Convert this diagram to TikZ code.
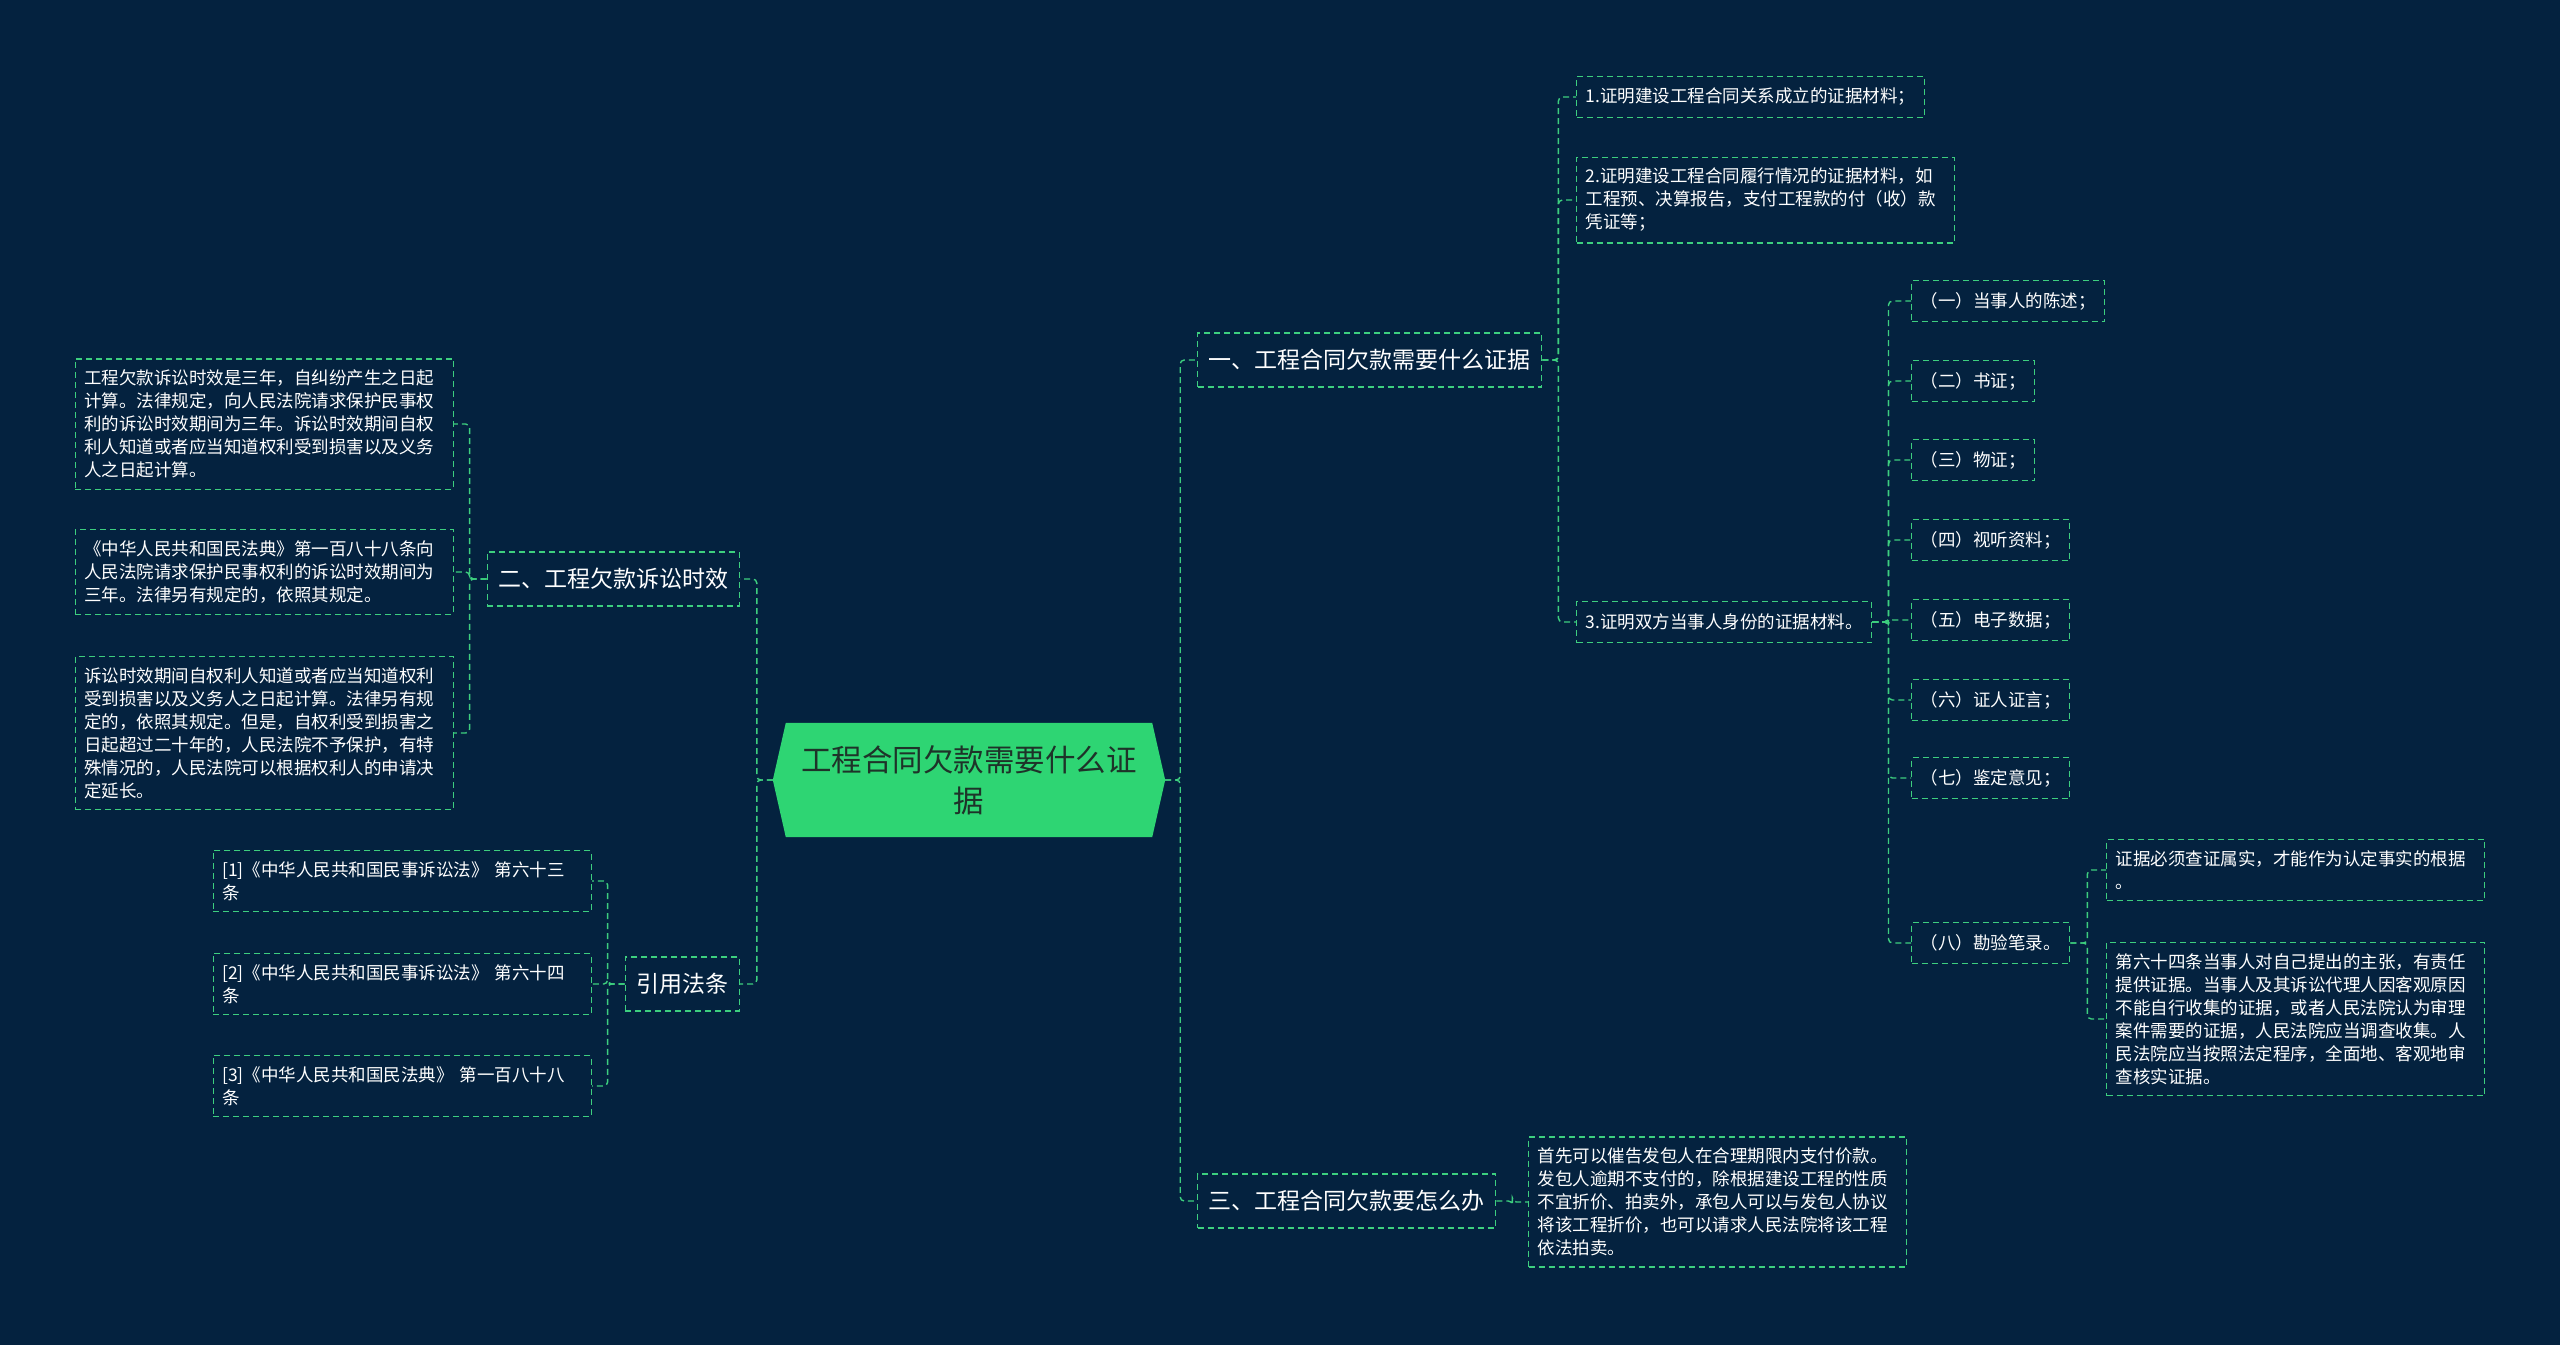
\documentclass[tikz,border=0pt]{standalone}
\usepackage{fontspec}
\setmainfont{Noto Sans CJK SC}
\usetikzlibrary{backgrounds}
\definecolor{mapbg}{HTML}{04223F}
\definecolor{mapline}{HTML}{3DCF7F}
\definecolor{rootfill}{HTML}{2ED573}
\definecolor{roottext}{HTML}{1E3329}
\tikzset{
  topic/.style={draw=mapline,dash pattern=on 6pt off 4pt,line width=1.4pt,text=white,
    font=\fontsize{23}{28}\selectfont,inner xsep=11pt,minimum height=54pt},
  leaf/.style={topic,font=\fontsize{17.5}{23}\selectfont,inner xsep=9pt,inner ysep=11pt,minimum height=41pt},
  note/.style={leaf,text width=360pt,align=left},
  link/.style={draw=mapline,dash pattern=on 6pt off 4pt,line width=1.4pt,rounded corners=4pt},
}

\begin{document}
\begin{tikzpicture}[x=1pt,y=-1pt]
  \useasboundingbox (0,0) rectangle (2560,1345);

  % centre
  \node[font=\fontsize{30.5}{41}\selectfont,text=roottext,align=center,
    minimum width=366pt,minimum height=114pt] (root) at (969,780) {工程合同欠款需要什么证\\据};
  \coordinate (rootR) at ([xshift=13pt]root.east);
  \coordinate (rootL) at ([xshift=-13pt]root.west);

  % main branches
  \node[topic,anchor=west] (b1) at (1197,360) {一、工程合同欠款需要什么证据};
  \node[topic,anchor=west] (b3) at (1197,1201) {三、工程合同欠款要怎么办};
  \node[topic,anchor=east] (b2) at (740,579) {二、工程欠款诉讼时效};
  \node[topic,anchor=east] (bq) at (740,984) {引用法条};

  % evidence
  \node[leaf,anchor=west] (s1) at (1576,97) {1.证明建设工程合同关系成立的证据材料；};
  \node[note,anchor=west] (s2) at (1576,200)
    {2.证明建设工程合同履行情况的证据材料，如\\工程预、决算报告，支付工程款的付（收）款\\凭证等；};
  \node[leaf,anchor=west] (s3) at (1576,622) {3.证明双方当事人身份的证据材料。};
  \foreach \s in {s1,s2,s3}
    \draw[link] (b1.east) -- ++(16,0) |- (\s.west);

  \foreach \n/\t/\y in {1/（一）当事人的陈述；/301,2/（二）书证；/381,3/（三）物证；/460,
      4/（四）视听资料；/540,5/（五）电子数据；/620,6/（六）证人证言；/700,
      7/（七）鉴定意见；/778,8/（八）勘验笔录。/943}{
    \node[leaf,anchor=west] (e\n) at (1911,\y) {\t};
    \draw[link] (s3.east) -- ++(16,0) |- (e\n.west);
  }
  \node[note,anchor=west] (e8a) at (2106,870) {证据必须查证属实，才能作为认定事实的根据\\。};
  \node[note,anchor=west] (e8b) at (2106,1019)
    {第六十四条当事人对自己提出的主张，有责任\\提供证据。当事人及其诉讼代理人因客观原因\\不能自行收集的证据，或者人民法院认为审理\\案件需要的证据，人民法院应当调查收集。人\\民法院应当按照法定程序，全面地、客观地审\\查核实证据。};
  \draw[link] (e8.east) -- ++(17,0) |- (e8a.west);
  \draw[link] (e8.east) -- ++(17,0) |- (e8b.west);

  % what to do
  \node[note,anchor=west] (b3a) at (1528,1202)
    {首先可以催告发包人在合理期限内支付价款。\\发包人逾期不支付的，除根据建设工程的性质\\不宜折价、拍卖外，承包人可以与发包人协议\\将该工程折价，也可以请求人民法院将该工程\\依法拍卖。};
  \draw[link] (b3.east) -- ++(16,0) |- (b3a.west);

  % limitation period
  \node[note,anchor=east] (l1) at (454,424)
    {工程欠款诉讼时效是三年，自纠纷产生之日起\\计算。法律规定，向人民法院请求保护民事权\\利的诉讼时效期间为三年。诉讼时效期间自权\\利人知道或者应当知道权利受到损害以及义务\\人之日起计算。};
  \node[note,anchor=east] (l2) at (454,572)
    {《中华人民共和国民法典》第一百八十八条向\\人民法院请求保护民事权利的诉讼时效期间为\\三年。法律另有规定的，依照其规定。};
  \node[note,anchor=east] (l3) at (454,733)
    {诉讼时效期间自权利人知道或者应当知道权利\\受到损害以及义务人之日起计算。法律另有规\\定的，依照其规定。但是，自权利受到损害之\\日起超过二十年的，人民法院不予保护，有特\\殊情况的，人民法院可以根据权利人的申请决\\定延长。};
  \foreach \l in {l1,l2,l3}
    \draw[link] (b2.west) -- ++(-17,0) |- (\l.east);

  % cited laws
  \node[note,anchor=east] (r1) at (592,881) {[1]《中华人民共和国民事诉讼法》 第六十三\\条};
  \node[note,anchor=east] (r2) at (592,984) {[2]《中华人民共和国民事诉讼法》 第六十四\\条};
  \node[note,anchor=east] (r3) at (592,1086) {[3]《中华人民共和国民法典》 第一百八十八\\条};
  \foreach \r in {r1,r2,r3}
    \draw[link] (bq.west) -- ++(-17,0) |- (\r.east);

  % trunk
  \draw[link] (rootR) -- ++(15,0) |- (b1.west);
  \draw[link] (rootR) -- ++(15,0) |- (b3.west);
  \draw[link] (rootL) -- ++(-16,0) |- (b2.east);
  \draw[link] (rootL) -- ++(-16,0) |- (bq.east);

  \begin{scope}[on background layer]
    \fill[mapbg] (0,0) rectangle (2560,1345);
    \fill[rootfill] (rootL) -- (root.north west) -- (root.north east) -- (rootR)
      -- (root.south east) -- (root.south west) -- cycle;
  \end{scope}
\end{tikzpicture}
\end{document}
